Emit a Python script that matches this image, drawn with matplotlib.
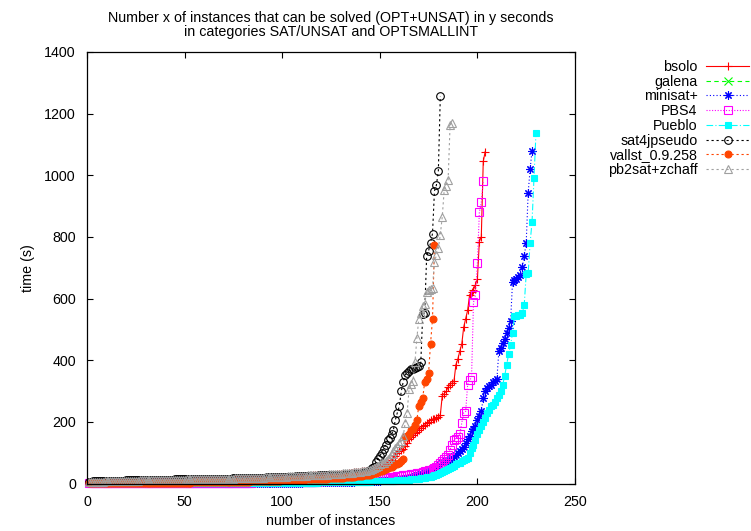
import numpy as np
import matplotlib
matplotlib.use("Agg")
import matplotlib.pyplot as plt

# ----------------------------------------------
# solving times (s), sorted, one value per solved instance

bsolo = [
  2,2,2,3,3,3,3,3,3,4,4,4,4,4,4,4,5,5,5,5,
  5,5,5,5,6,6,6,6,6,6,6,7,7,7,7,7,7,7,8,8,
  8,8,8,8,8,9,9,9,9,9,9,10,10,10,10,10,10,11,11,11,
  11,11,11,12,12,12,12,12,13,13,13,13,13,14,14,14,14,14,15,15,
  15,15,16,16,16,16,17,17,17,17,18,18,18,19,19,19,19,20,20,20,
  21,21,21,22,22,22,23,23,23,24,24,24,25,25,25,26,26,26,27,27,
  27,28,28,28,29,29,29,30,30,31,31,32,32,33,
  35,35,36,37,37,38,39,39,40,42,
  44,46,48,50,52,55,57,60,64,68,
  72,76,83,90,98,105,109,113,121,130,
  143,150,157,163,168,175,180,185,190,195,
  200,205,208,210,213,216,222,285,292,299,
  313,321,326,332,386,404,430,453,508,535,
  562,612,620,629,645,663,785,801,1045,1077]

galena = []

minisat = [
  0.1,0.1,0.1,0.1,0.1,0.2,0.2,0.2,0.2,0.2,0.2,0.2,0.3,0.3,0.3,0.3,0.3,0.3,0.3,0.3,
  0.4,0.4,0.4,0.4,0.4,0.4,0.4,0.5,0.5,0.5,0.5,0.5,0.5,0.5,0.6,0.6,0.6,0.6,0.6,0.6,
  0.7,0.7,0.7,0.7,0.7,0.8,0.8,0.8,0.8,0.8,0.9,0.9,0.9,0.9,1,1,1,1,1,1.1,
  1.1,1.1,1.1,1.2,1.2,1.2,1.3,1.3,1.3,1.4,1.4,1.4,1.5,1.5,1.5,1.6,1.6,1.6,1.7,1.7,
  1.7,1.8,1.8,1.9,1.9,2,2,2,2.1,2.1,2.2,2.2,2.3,2.3,2.4,2.4,2.5,2.5,2.6,2.6,
  2.7,2.7,2.8,2.8,2.9,3,3,3.1,3.2,3.2,3.3,3.4,3.5,3.5,3.6,3.7,3.8,3.9,4,4.1,
  4.2,4.3,4.4,4.5,4.6,4.7,4.9,5,5.1,5.3,5.4,5.6,5.7,5.9,6,6.2,6.4,6.6,6.8,7,
  7.2,7.4,7.6,7.9,8.1,8.4,8.7,9,9.3,9.6,10,10.4,10.8,11.2,11.6,12,12.5,13,13.5,14,
  15,16,17,18,19,20,22,24,26,28,30,32,35,38,
  40,43,46,50,53,55,60,65,69,72,
  76,80,84,88,93,99,105,112,120,130,
  143,155,170,178,185,207,220,234,278,300,
  310,315,321,328,332,340,430,440,455,470,
  488,505,526,655,660,665,670,677,701,739,
  780,942,1020,1079]

pbs4 = [
  0.3,0.3,0.4,0.4,0.4,0.5,0.5,0.5,0.5,0.6,0.6,0.6,0.6,0.7,0.7,0.7,0.7,0.8,0.8,0.8,
  0.8,0.9,0.9,0.9,1,1,1,1,1,1.1,1.1,1.1,1.1,1.2,1.2,1.2,1.3,1.3,1.3,1.3,
  1.4,1.4,1.4,1.5,1.5,1.5,1.6,1.6,1.6,1.7,1.7,1.7,1.8,1.8,1.8,1.9,1.9,2,2,2,
  2.1,2.1,2.2,2.2,2.2,2.3,2.3,2.4,2.4,2.5,2.5,2.6,2.6,2.7,2.7,2.8,2.8,2.9,2.9,3,
  3,3.1,3.1,3.2,3.3,3.3,3.4,3.5,3.5,3.6,3.7,3.7,3.8,3.9,4,4,4.1,4.2,4.3,4.4,
  4.5,4.6,4.7,4.8,4.9,5,5.1,5.2,5.3,5.4,5.5,5.6,5.7,5.8,6,6.1,6.2,6.4,6.5,6.7,
  6.8,7,7.2,7.4,7.6,7.8,8,8.2,8.4,8.6,8.8,9,9.3,9.6,9.9,10,10.5,11,11.5,12,
  12.5,13,13.5,14,14.5,15,15.5,16,16.5,17,17.5,18,18.5,19,19.5,20,21,22,23,24,
  25,26,27,28,29,30,31,32,33,34,35,37,39,41,43,45,48,51,55,
  60,68,72,80,85,92,110,125,140,146,
  150,160,197,230,234,321,335,344,588,610,
  715,880,912,982]

pueblo = [
  0.1,0.1,0.1,0.1,0.1,0.1,0.1,0.1,0.1,0.1,0.2,0.2,0.2,0.2,0.2,0.2,0.2,0.2,0.2,0.2,
  0.2,0.3,0.3,0.3,0.3,0.3,0.3,0.3,0.3,0.3,0.4,0.4,0.4,0.4,0.4,0.4,0.4,0.4,0.5,0.5,
  0.5,0.5,0.5,0.5,0.5,0.6,0.6,0.6,0.6,0.6,0.6,0.7,0.7,0.7,0.7,0.7,0.8,0.8,0.8,0.8,
  0.8,0.9,0.9,0.9,0.9,1,1,1,1,1,1.1,1.1,1.1,1.1,1.2,1.2,1.2,1.3,1.3,1.3,
  1.4,1.4,1.4,1.5,1.5,1.5,1.6,1.6,1.6,1.7,1.7,1.8,1.8,1.8,1.9,1.9,2,2,2.1,2.1,
  2.2,2.2,2.3,2.3,2.4,2.4,2.5,2.5,2.6,2.6,2.7,2.8,2.8,2.9,3,3,3.1,3.2,3.3,3.3,
  3.4,3.5,3.6,3.7,3.8,3.9,4,4.1,4.2,4.3,4.4,4.5,4.6,4.7,4.8,4.9,5,5.1,5.3,5.4,
  5.6,5.8,6,6.2,6.4,6.6,6.8,7,7.2,7.4,7.6,7.8,8,8.3,8.6,8.9,9.2,9.5,9.8,10,
  10.5,11,11.5,12,12.5,13,13.5,14,15,16,17,18,19,20,21,22,24,26,28,
  30,33,36,40,43,47,51,55,58,62,
  65,68,72,75,78,83,100,116,126,140,
  159,175,186,200,213,230,240,250,256,265,
  278,288,299,321,350,386,420,450,488,542,
  544,546,548,553,580,680,683,780,850,990,
  1136]

sat4jpseudo = [
  6,6,7,7,7,7,8,8,8,8,8,8,9,9,9,9,9,9,9,10,
  10,10,10,10,10,10,10,11,11,11,11,11,11,11,11,12,12,12,12,12,
  12,12,12,12,13,13,13,13,13,13,13,13,14,14,14,14,14,14,14,14,
  15,15,15,15,15,15,15,16,16,16,16,16,16,16,17,17,17,17,17,17,
  18,18,18,18,18,18,19,19,19,19,19,20,20,20,20,20,21,21,21,21,
  21,22,22,22,22,22,23,23,23,23,24,24,24,24,25,25,25,25,26,26,
  26,26,27,27,27,28,28,28,28,29,29,29,29,29,30,30,30,30,30,
  31,33,35,38,41,45,50,55,70,80,
  89,100,113,125,140,149,159,175,207,230,
  250,299,330,353,360,365,370,372,375,377,
  380,393,550,554,737,755,781,811,949,968,
  1015,1257]

vallst = [
  1,1,1,1,1,1,1,1,1,1,1,1,1,1,1,2,2,2,2,2,
  2,2,2,2,2,2,2,2,2,2,2,2,2,2,2,2,3,3,3,3,
  3,3,3,3,3,3,3,3,3,3,3,3,3,4,4,4,4,4,4,4,
  4,4,4,4,4,4,5,5,5,5,5,5,5,5,5,6,6,6,6,6,
  6,6,6,7,7,7,7,7,7,8,8,8,8,8,9,9,9,9,9,10,
  10,10,10,11,11,11,11,12,12,12,12,13,13,13,14,14,14,15,15,15,
  16,16,16,17,17,17,18,18,18,19,19,20,20,21,21,22,22,23,23,24,25,26,27,28,
  29,31,33,35,37,40,42,45,47,50,
  52,55,58,62,64,67,72,78,150,155,
  162,173,178,190,207,253,264,278,330,339,
  359,454,534,774]

pb2sat = [
  4,5,5,5,6,6,6,6,7,7,7,7,7,8,8,8,8,8,8,9,
  9,9,9,9,9,9,10,10,10,10,10,10,10,10,11,11,11,11,11,11,
  11,11,12,12,12,12,12,12,12,12,13,13,13,13,13,13,13,14,14,14,
  14,14,14,14,15,15,15,15,15,15,16,16,16,16,16,17,17,17,17,17,
  17,18,18,18,18,18,19,19,19,19,20,20,20,20,21,21,21,21,22,22,
  22,22,23,23,23,23,24,24,24,25,25,25,26,26,26,27,27,27,28,28,
  28,29,29,30,30,30,31,31,32,32,33,33,34,34,35,35,36,36,37,38,39,40,41,43,
  45,48,50,55,58,62,65,67,72,78,
  85,95,105,115,121,130,137,153,197,230,
  307,324,332,393,472,535,553,575,583,620,
  628,631,634,720,740,764,807,866,953,966,
  985,1163,1171]

names = ["bsolo", "galena", "minisat+", "PBS4", "Pueblo", "sat4jpseudo", "vallst_0.9.258", "pb2sat+zchaff"]
series = [bsolo, galena, minisat, pbs4, pueblo, sat4jpseudo, vallst, pb2sat]

# gnuplot-ish styles: color, linestyle, marker, filled, markersize
styles = [
  ("#ff0000", "-", "+", True, 6),
  ("#00ff00", (0, (4, 3)), "x", True, 5.5),
  ("#0000ff", (0, (1, 2)), (8, 2, 0), True, 6),
  ("#ff00ff", (0, (1, 1.5)), "s", False, 5.5),
  ("#00ffff", (0, (6, 2, 1, 2)), "s", True, 5),
  ("#000000", (0, (2, 2.5)), "o", False, 5.5),
  ("#ff4500", (0, (2, 2.5)), "o", True, 5),
  ("#a0a0a0", (0, (2, 2.5)), "^", False, 6),
]

# ----------------------------------------------

plt.rcParams['font.family'] = ['Liberation Sans', 'DejaVu Sans']
FontSize = 10.3

fig = plt.figure(figsize=(7.51, 5.31), dpi=100)
ax = fig.add_axes([87/751, 1-483.5/531, (575-87)/751, (483.5-52)/531])

for name, ys, st in zip(names, series, styles):
  color, ls, mk, filled, ms = st
  xs = np.arange(1, len(ys)+1)
  ax.plot(xs, ys, linestyle=ls, color=color, linewidth=0.8, marker=mk, markersize=ms,
          markerfacecolor=color if filled else 'none', markeredgecolor=color,
          markeredgewidth=0.8, label=name, clip_on=False)

ax.set_xlim(0, 250)
ax.set_ylim(0, 1400)
ax.set_xticks(range(0, 251, 50))
ax.set_yticks(range(0, 1401, 200))
ax.tick_params(direction='in', top=True, right=True, length=4.5, width=0.8,
               labelsize=FontSize, pad=8)
for sp in ax.spines.values():
  sp.set_linewidth(0.9)

fig.text(331/751, 1-25/531,
         "Number x of instances that can be solved (OPT+UNSAT) in y seconds\nin categories SAT/UNSAT and OPTSMALLINT",
         ha='center', va='center', fontsize=FontSize, linespacing=1.0)
fig.text(331/751, 1-521/531, "number of instances", ha='center', va='center', fontsize=FontSize)
fig.text(28/751, 1-268/531, "time (s)", ha='center', va='center', rotation=90, fontsize=FontSize)

leg = ax.legend(loc='upper right', bbox_to_anchor=(749/751, 1-60/531), bbox_transform=fig.transFigure,
                frameon=False, markerfirst=False, borderpad=0, handlelength=3.0,
                handletextpad=0.6, labelspacing=0.05, fontsize=FontSize, borderaxespad=0)

fig.savefig("out.png", dpi=100)
